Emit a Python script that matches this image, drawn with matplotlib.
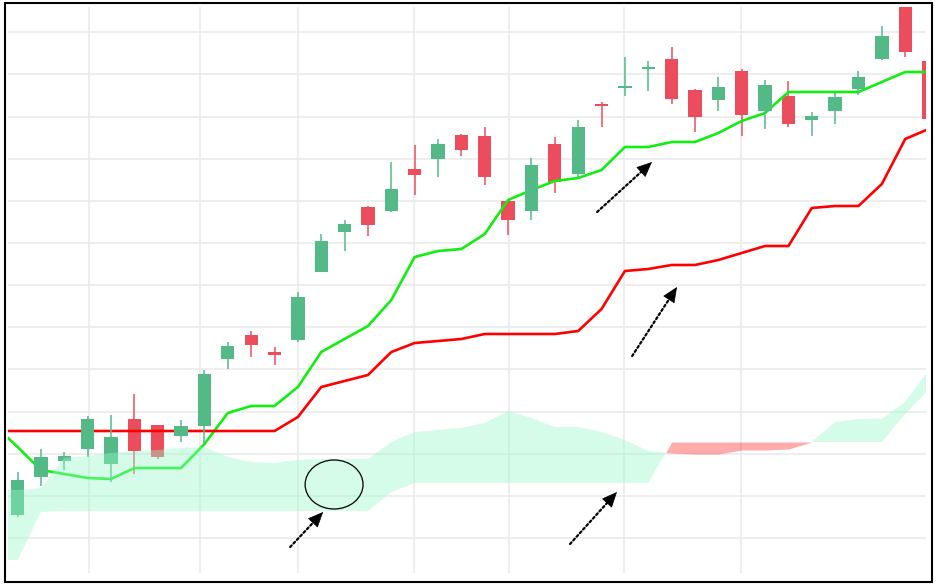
import numpy as np
import matplotlib
matplotlib.use('Agg')
import matplotlib.pyplot as plt
from matplotlib.patches import Ellipse, Rectangle

# candle data (one entry per bar)
opens = [8.5, 12.3, 13.9, 15.1, 13.6, 18.1, 17.5, 16.4, 17.4, 24.1,
         26.5, 24.8, 26.0, 32.8, 36.8, 39.3, 38.9, 43.1, 44.1, 46.5,
         46.4, 39.9, 38.9, 45.6, 42.6, 49.5, 51.2, 53.1, 54.1, 51.0,
         50.0, 52.9, 48.9, 50.4, 48.0, 48.9, 51.1, 54.1, 60.0, 53.9]
highs = [12.8, 15.1, 14.8, 18.4, 18.5, 20.6, 17.5, 18.0, 23.0, 25.8,
         26.9, 25.3, 30.8, 36.6, 38.0, 39.4, 43.8, 45.5, 46.1, 46.6,
         47.3, 40.0, 44.2, 46.3, 48.0, 49.8, 54.3, 53.9, 55.3, 51.1,
         52.3, 53.1, 52.0, 51.9, 48.8, 50.7, 52.9, 57.4, 60.5, 54.5]
lows = [8.3, 11.4, 13.0, 14.3, 11.8, 12.6, 14.1, 15.8, 15.5, 23.1,
        24.3, 23.5, 25.8, 32.8, 34.9, 36.4, 38.8, 40.5, 42.3, 44.4,
        41.5, 36.5, 38.0, 40.7, 42.3, 47.3, 50.4, 50.9, 49.6, 46.8,
        48.9, 46.4, 47.1, 47.3, 46.4, 47.6, 50.5, 54.0, 54.3, 47.8]
closes = [12.0, 14.3, 14.4, 18.1, 16.3, 14.9, 14.3, 17.4, 22.6, 25.4,
          25.5, 24.5, 30.3, 35.9, 37.6, 37.5, 41.1, 42.5, 45.6, 45.0,
          42.3, 38.0, 43.5, 41.8, 47.3, 49.4, 51.4, 53.3, 50.1, 48.3,
          51.3, 48.5, 51.5, 47.6, 48.4, 50.3, 52.3, 56.4, 54.8, 48.1]

# indicator lines, starting one bar before the first candle
tenkan = [17.5, 15.3, 13.0, 12.6, 12.2, 12.1, 13.2, 13.2, 13.2, 15.6,
          18.7, 19.4, 19.4, 21.3, 24.8, 26.1, 27.4, 30.0, 34.3, 34.9,
          35.1, 36.6, 40.0, 41.0, 41.9, 42.2, 43.0, 45.3, 45.3, 45.8,
          45.8, 46.7, 47.9, 48.7, 50.8, 50.8, 50.8, 50.8, 51.8, 52.8, 52.8]
kijun = [16.9, 16.9, 16.9, 16.9, 16.9, 16.9, 16.9, 16.9, 16.9, 16.9,
         16.9, 16.9, 16.9, 18.3, 21.3, 21.9, 22.5, 24.8, 25.7, 25.9,
         26.1, 26.6, 26.6, 26.6, 26.6, 26.9, 29.1, 32.9, 33.1, 33.5,
         33.5, 34.0, 34.7, 35.4, 35.4, 39.2, 39.4, 39.4, 41.6, 46.1, 47.1]
senkou_a = [11.0, 11.0, 11.2, 14.2, 14.4, 14.7, 14.9, 15.0, 15.2, 15.3,
            14.3, 13.8, 13.7, 14.0, 14.1, 14.1, 14.1, 15.8, 16.8, 17.0,
            17.2, 17.7, 18.9, 18.2, 17.3, 17.3, 16.8, 16.0, 14.9, 14.7,
            14.6, 14.6, 15.0, 15.0, 15.1, 15.8, 17.8, 18.1, 18.1, 19.8, 23.0]
senkou_b = [4.0, 4.0, 8.8, 8.9, 8.9, 8.9, 8.9, 8.9, 8.9, 8.9,
            8.9, 8.9, 8.9, 8.9, 8.9, 8.9, 8.9, 10.8, 11.7, 11.7,
            11.7, 11.7, 11.7, 11.7, 11.7, 11.7, 11.7, 11.7, 11.7, 15.8,
            15.8, 15.8, 15.8, 15.8, 15.8, 15.8, 15.8, 15.8, 15.8, 18.6, 21.0]

# annotations: (tail x, tail y, head x, head y)
arrows = [(11.67, 5.3, 13.08, 8.8),
          (23.65, 5.6, 25.66, 10.8),
          (26.31, 24.4, 28.23, 31.3),
          (24.81, 38.8, 27.16, 43.8)]
circle_xy = (13.55, 11.55)

green = '#53b987'
red = '#eb4d5c'

x_c = np.arange(len(opens))
x_l = np.arange(-1, len(tenkan) - 1)
opens, closes = np.array(opens), np.array(closes)
up = closes >= opens

fig = plt.figure(figsize=(9.39, 5.88), dpi=100)
ax = fig.add_axes([8/939, 15/588, 918/939, 566/588])
ax.set_xlim(-0.41, 38.89)
ax.set_ylim(2.7, 59.3)

# candles: red ones under the lines, green ones above
for mask, col, z in [(~up, red, 2), (up, green, 4)]:
    xs = x_c[mask]
    ax.vlines(xs, np.array(lows)[mask], np.array(highs)[mask], color=col, lw=1.1, zorder=z)
    bottom = np.minimum(opens, closes)[mask]
    height = np.maximum(np.abs(closes - opens)[mask], 0.25)
    ax.bar(xs, height, bottom=bottom, width=0.57, color=col, zorder=z)

ax.plot(x_l, tenkan, color='#11ee11', lw=1.9, zorder=3)
ax.plot(x_l, kijun, color='#ff0000', lw=1.9, zorder=3)

sa, sb = np.array(senkou_a), np.array(senkou_b)
ax.fill_between(x_l, sa, sb, where=sa >= sb, interpolate=True,
                color='#98fac8', alpha=0.41, lw=0, zorder=5)
ax.fill_between(x_l, sa, sb, where=sa < sb, interpolate=True,
                color='#ff0000', alpha=0.33, lw=0, zorder=5)

# annotations
ax.add_patch(Ellipse(circle_xy, 2.48, 4.9, fill=False, ec='black', lw=0.9, zorder=6))
head = 10  # points
for x0, y0, x1, y1 in arrows:
    p0 = ax.transData.transform((x0, y0))
    p1 = ax.transData.transform((x1, y1))
    u = (p1 - p0) / np.hypot(*(p1 - p0))
    # dotted shaft
    ax.annotate('', xy=(x1, y1), xytext=(x0, y0), zorder=7,
                arrowprops=dict(arrowstyle='-', linestyle=(0, (1, 1.2)), lw=1.6,
                                color='black', shrinkA=0, shrinkB=head - 2))
    # solid head
    ax.annotate('', xy=(x1, y1), xytext=(-u[0] * head, -u[1] * head),
                textcoords='offset points', zorder=7,
                arrowprops=dict(arrowstyle='-|>,head_length=0.5,head_width=0.22',
                                lw=0.5, color='black', mutation_scale=20,
                                shrinkA=0, shrinkB=0))

ax.set_yticks(np.arange(6.2, 59, 4.215))
ax.set_xticks([3.06, 7.8, 12.0, 16.97, 21.04, 25.96, 30.97])
ax.grid(True, color='#ebebeb', lw=1.2, zorder=0)
ax.set_axisbelow(True)
ax.tick_params(length=0, labelleft=False, labelbottom=False)
for s in ax.spines.values():
    s.set_visible(False)

# outer frame
fig.patches.append(Rectangle((5/939, 6/588), 927/939, 579/588, transform=fig.transFigure,
                             fill=False, ec='black', lw=1.5))

fig.savefig('out.png', dpi=100)
